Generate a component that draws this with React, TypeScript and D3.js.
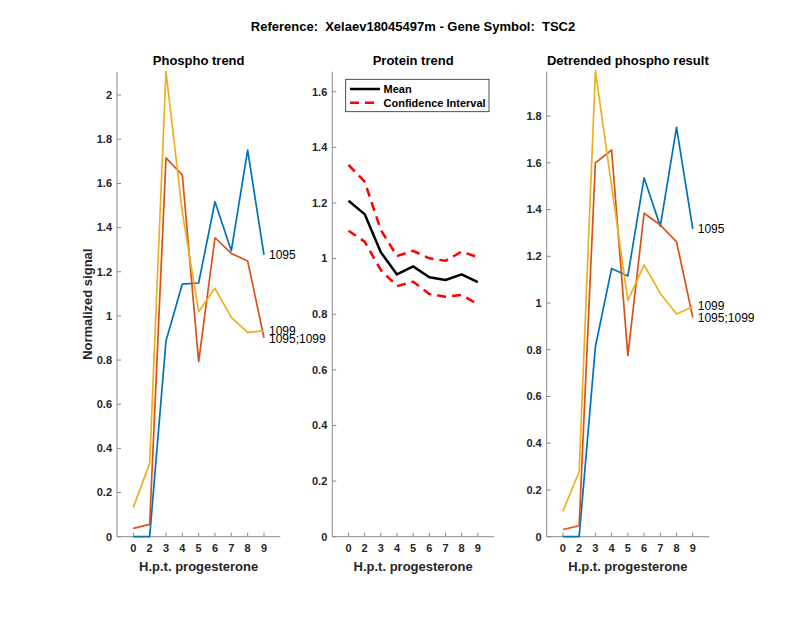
import * as d3 from "d3";

const timeLabels = ["0", "2", "3", "4", "5", "6", "7", "8", "9"];

// Phospho trend
const phosphoBlue = [0, 0, 0.886, 1.144, 1.149, 1.517, 1.295, 1.751, 1.276];
const phosphoOrange = [0.038, 0.056, 1.716, 1.638, 0.793, 1.354, 1.283, 1.249, 0.901];
const phosphoYellow = [0.133, 0.332, 2.106, 1.47, 1.019, 1.125, 0.993, 0.925, 0.933];

// Protein trend
const proteinMean = [1.208, 1.16, 1.023, 0.943, 0.972, 0.933, 0.923, 0.943, 0.915];
const proteinUpper = [1.337, 1.277, 1.103, 1.009, 1.028, 1.001, 0.992, 1.025, 1.005];
const proteinLower = [1.1, 1.061, 0.959, 0.901, 0.917, 0.873, 0.863, 0.869, 0.836];

// Detrended phospho result
const detrendBlue = [0, 0, 0.813, 1.148, 1.116, 1.536, 1.329, 1.752, 1.317];
const detrendOrange = [0.031, 0.047, 1.6, 1.655, 0.775, 1.384, 1.334, 1.262, 0.939];
const detrendYellow = [0.109, 0.278, 1.994, 1.5, 1.01, 1.163, 1.041, 0.953, 0.984];

const seriesNames = ["1095", "1095;1099", "1099"];
const colors = ["#0072BD", "#D95319", "#EDB120"];

const FONT = "'Liberation Sans', Arial, Helvetica, sans-serif";
const axisColor = "#8a8a8a";
const textColor = "#262626";

const top = 71.7;
const bottom = 536.7;

type Line = { values: number[]; color: string; dash?: string; width: number };

function Panel({
  left,
  right,
  yMax,
  yTicks,
  title,
  lines,
  labels,
  children,
}: {
  left: number;
  right: number;
  yMax: number;
  yTicks: number[];
  title: string;
  lines: Line[];
  labels?: { text: string; value: number; dy: number }[];
  children?: any;
}) {
  const x = d3.scaleLinear([0, 10], [left, right]);
  const y = d3.scaleLinear([0, yMax], [bottom, top]);
  const line = d3.line<number>((_, i) => x(i + 1), (d) => y(d));
  return (
    <g fontFamily={FONT}>
      <text x={(left + right) / 2} y={65} textAnchor="middle" fontSize={13} fontWeight="bold" fill="#000">
        {title}
      </text>
      <line x1={left} x2={left} y1={top} y2={bottom} stroke={axisColor} />
      <line x1={left} x2={right} y1={bottom} y2={bottom} stroke={axisColor} />
      {yTicks.map((t) => (
        <g key={t}>
          <line x1={left} x2={left + 4} y1={y(t)} y2={y(t)} stroke={axisColor} />
          <text x={left - 5} y={y(t)} dy="0.35em" textAnchor="end" fontSize={11} fontWeight="bold" fill={textColor}>
            {d3.format("~g")(t)}
          </text>
        </g>
      ))}
      {timeLabels.map((l, i) => (
        <g key={l}>
          <line x1={x(i + 1)} x2={x(i + 1)} y1={bottom} y2={bottom - 4} stroke={axisColor} />
          <text x={x(i + 1)} y={552} textAnchor="middle" fontSize={11} fontWeight="bold" fill={textColor}>
            {l}
          </text>
        </g>
      ))}
      <text x={(x(1) + x(9)) / 2} y={571} textAnchor="middle" fontSize={13} fontWeight="bold" fill={textColor}>
        H.p.t. progesterone
      </text>
      {lines.map((s, i) => (
        <path
          key={i}
          d={line(s.values) ?? ""}
          fill="none"
          stroke={s.color}
          strokeWidth={s.width}
          strokeDasharray={s.dash}
          strokeLinejoin="round"
        />
      ))}
      {labels?.map((lb) => (
        <text key={lb.text} x={x(9) + 5} y={y(lb.value) + lb.dy} dy="0.35em" fontSize={12} fill="#000">
          {lb.text}
        </text>
      ))}
      {children}
    </g>
  );
}

export default function App() {
  const width = 800;
  const height = 618;
  return (
    <svg width={width} height={height} style={{ display: "block", position: "absolute", left: 0, top: 0, background: "#fff" }}>
      <text
        x={413}
        y={31}
        textAnchor="middle"
        fontFamily={FONT}
        fontSize={13}
        fontWeight="bold"
        fill="#000"
        style={{ whiteSpace: "pre" }}
      >
        {"Reference:  Xelaev18045497m - Gene Symbol:  TSC2"}
      </text>
      <text
        transform={`translate(92,${(top + bottom) / 2}) rotate(-90)`}
        textAnchor="middle"
        fontFamily={FONT}
        fontSize={13}
        fontWeight="bold"
        fill={textColor}
      >
        Normalized signal
      </text>
      <Panel
        left={117}
        right={280.3}
        yMax={2.106}
        yTicks={d3.range(0, 2.01, 0.2).map((v) => +v.toFixed(1))}
        title="Phospho trend"
        lines={[
          { values: phosphoBlue, color: colors[0], width: 1.7 },
          { values: phosphoOrange, color: colors[1], width: 1.7 },
          { values: phosphoYellow, color: colors[2], width: 1.7 },
        ]}
        labels={[
          { text: seriesNames[0], value: phosphoBlue[8], dy: 0 },
          { text: seriesNames[2], value: phosphoYellow[8], dy: 0 },
          { text: seriesNames[1], value: phosphoOrange[8], dy: 1 },
        ]}
      />
      <Panel
        left={332.3}
        right={494}
        yMax={1.672}
        yTicks={d3.range(0, 1.61, 0.2).map((v) => +v.toFixed(1))}
        title="Protein trend"
        lines={[
          { values: proteinMean, color: "#000", width: 2.5 },
          { values: proteinUpper, color: "#ff0000", width: 2.5, dash: "9 6" },
          { values: proteinLower, color: "#ff0000", width: 2.5, dash: "9 6" },
        ]}
      >
        <rect x={345.7} y={79.3} width={143.3} height={32.4} fill="#fff" stroke="#262626" strokeWidth={0.8} />
        <line x1={350} x2={380} y1={89} y2={89} stroke="#000" strokeWidth={2.5} />
        <line x1={350} x2={380} y1={102.7} y2={102.7} stroke="#ff0000" strokeWidth={2.5} strokeDasharray="9 6" />
        <text x={383.5} y={89} dy="0.35em" fontSize={11} fontWeight="bold" fill="#000">
          Mean
        </text>
        <text x={383.5} y={102.7} dy="0.35em" fontSize={11} fontWeight="bold" fill="#000">
          Confidence Interval
        </text>
      </Panel>
      <Panel
        left={546.7}
        right={709}
        yMax={1.99}
        yTicks={d3.range(0, 1.81, 0.2).map((v) => +v.toFixed(1))}
        title="Detrended phospho result"
        lines={[
          { values: detrendBlue, color: colors[0], width: 1.7 },
          { values: detrendOrange, color: colors[1], width: 1.7 },
          { values: detrendYellow, color: colors[2], width: 1.7 },
        ]}
        labels={[
          { text: seriesNames[0], value: detrendBlue[8], dy: 0 },
          { text: seriesNames[2], value: detrendYellow[8], dy: -1 },
          { text: seriesNames[1], value: detrendOrange[8], dy: 1 },
        ]}
      />
    </svg>
  );
}
